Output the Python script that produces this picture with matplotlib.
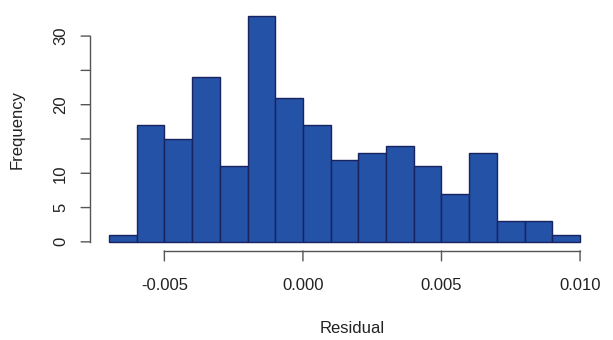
import numpy as np
import matplotlib
matplotlib.use("Agg")
import matplotlib.pyplot as plt

# histogram of residuals, bin width 0.001
bin_edges = np.round(np.arange(-0.007, 0.0105, 0.001), 4)
counts = [1, 17, 15, 24, 11, 33, 21, 17, 12, 13, 14, 11, 7, 13, 3, 3, 1]
x_ticks = [-0.005, 0.000, 0.005, 0.010]
x_ticklabels = ["-0.005", "0.000", "0.005", "0.010"]
y_ticks = [0, 5, 10, 20, 30]
y_minor = [15, 25]

plt.rcParams["font.family"] = ["Liberation Sans", "DejaVu Sans"]
txt = "#222222"

fig = plt.figure(figsize=(6.13, 3.40), dpi=100)
ax = fig.add_axes([0.147, 0.262, 0.830, 0.719])

ax.hist(bin_edges[:-1], bins=bin_edges, weights=counts,
        color="#2352a6", edgecolor="#19245f", linewidth=1.0)

# R-like padding of 4% on both axes
xr = bin_edges[-1] - bin_edges[0]
ax.set_xlim(bin_edges[0] - 0.04 * xr, bin_edges[-1] + 0.04 * xr)
ax.set_ylim(-0.04 * max(counts), max(counts) * 1.04)

for s in ax.spines.values():
    s.set_visible(False)
ax.set_xticks([])
ax.set_yticks([])

# axis lines drawn only across the tick range, like base R graphics
ymin = ax.get_ylim()[0]
xmin = ax.get_xlim()[0]
ax.plot([x_ticks[0], x_ticks[-1]], [ymin, ymin], color="#555555", lw=1.0,
        clip_on=False)
ax.plot([xmin, xmin], [0, 30], color="#555555", lw=1.0, clip_on=False)

for xt, lab in zip(x_ticks, x_ticklabels):
    ax.annotate("", xy=(xt, ymin), xytext=(0, -10), textcoords="offset pixels",
                xycoords="data", annotation_clip=False,
                arrowprops=dict(arrowstyle="-", color="#555555", lw=1.0,
                                shrinkA=0, shrinkB=0))
    ax.annotate(lab, xy=(xt, ymin), xytext=(0, -27), textcoords="offset pixels",
                ha="center", va="top", fontsize=12, color=txt,
                annotation_clip=False)

for yt in y_ticks + y_minor:
    ax.annotate("", xy=(xmin, yt), xytext=(-9, 0), textcoords="offset pixels",
                annotation_clip=False,
                arrowprops=dict(arrowstyle="-", color="#555555", lw=1.0,
                                shrinkA=0, shrinkB=0))
for yt in y_ticks:
    ax.annotate(str(yt), xy=(xmin, yt), xytext=(-22, 0),
                textcoords="offset pixels", ha="right", va="center",
                rotation=90, fontsize=12, color=txt, annotation_clip=False)

fig.text(0.575, 0.012, "Residual", ha="center", va="bottom", fontsize=12,
         color=txt)
fig.text(0.028, 0.62, "Frequency", ha="center", va="center", rotation=90,
         fontsize=12, color=txt)

fig.savefig("out.png", dpi=100)
